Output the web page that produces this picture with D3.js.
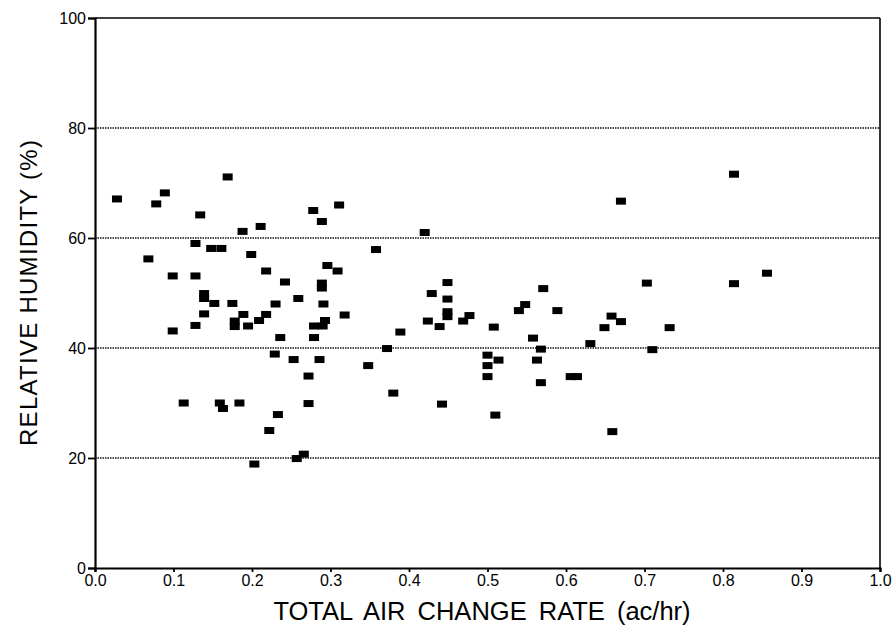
<!DOCTYPE html>
<html><head><meta charset="utf-8">
<script src="https://cdn.jsdelivr.net/npm/d3@7"></script>
<style>body{margin:0;background:#fff}svg{display:block}text{font-family:"Liberation Sans",Arial,sans-serif;fill:#000}</style>
</head><body>
<svg id="c" width="895" height="637"></svg>
<script>
const airChange = [0.028,0.068,0.078,0.089,0.099,0.099,0.113,0.128,0.128,0.128,0.134,0.139,0.139,0.139,0.148,0.152,0.159,0.161,0.163,0.169,0.175,0.178,0.178,0.184,0.188,0.189,0.195,0.199,0.203,0.209,0.211,0.218,0.218,0.222,0.229,0.230,0.233,0.236,0.242,0.253,0.257,0.259,0.266,0.272,0.272,0.278,0.279,0.279,0.286,0.289,0.289,0.289,0.290,0.291,0.293,0.296,0.309,0.311,0.318,0.348,0.358,0.372,0.380,0.389,0.420,0.424,0.429,0.439,0.442,0.449,0.449,0.449,0.449,0.469,0.477,0.500,0.500,0.500,0.508,0.510,0.514,0.540,0.548,0.558,0.563,0.568,0.568,0.571,0.589,0.606,0.614,0.631,0.649,0.658,0.659,0.670,0.670,0.703,0.710,0.732,0.814,0.814,0.856];
const humidity = [67.1,56.2,66.2,68.2,53.1,43.1,30.0,59.0,53.1,44.1,64.2,49.9,49.0,46.2,58.1,48.1,30.0,58.1,29.0,71.1,48.1,44.9,43.9,30.0,61.2,46.1,44.0,57.0,18.9,45.0,62.1,54.0,46.1,25.0,38.9,48.0,27.9,41.9,52.0,37.9,19.9,49.0,20.7,34.9,29.9,65.0,44.0,41.9,37.9,63.0,51.8,50.9,44.0,48.0,45.0,55.0,54.0,66.0,46.0,36.8,57.9,39.9,31.8,42.9,61.0,44.9,49.9,43.9,29.8,51.9,48.9,46.6,45.7,44.9,45.9,38.7,36.8,34.8,43.8,27.8,37.8,46.8,47.9,41.8,37.8,39.8,33.7,50.8,46.8,34.8,34.8,40.8,43.7,45.8,24.8,66.7,44.8,51.8,39.7,43.7,71.6,51.7,53.6];
const xTicks = [0,0.1,0.2,0.3,0.4,0.5,0.6,0.7,0.8,0.9,1.0];
const yTicks = [0,20,40,60,80,100];
const gridValues = [20,40,60,80];
const xTitle = "TOTAL AIR CHANGE RATE (ac/hr)";
const yTitle = "RELATIVE HUMIDITY (%)";

const svg = d3.select("#c");
const L=95, R=880, T=18, B=568;
const x = d3.scaleLinear().domain([0,1]).range([L,R]);
const y = d3.scaleLinear().domain([0,100]).range([B,T]);

// gridlines
svg.append("g").selectAll("line").data(gridValues).join("line")
  .attr("x1",L).attr("x2",R).attr("y1",d=>y(d)).attr("y2",d=>y(d))
  .attr("stroke","#111").attr("stroke-width",1.4).attr("stroke-dasharray","1.5,1");

// frame
svg.append("line").attr("x1",L).attr("x2",R).attr("y1",T).attr("y2",T).attr("stroke","#000").attr("stroke-width",1.6);
svg.append("line").attr("x1",R).attr("x2",R).attr("y1",T).attr("y2",B).attr("stroke","#000").attr("stroke-width",1.6);

// axes
const yAxis = svg.append("g").attr("transform",`translate(${L},0)`)
  .call(d3.axisLeft(y).tickValues(yTicks).tickFormat(d3.format("d")).tickSize(7).tickPadding(2));
const xAxis = svg.append("g").attr("transform",`translate(0,${B})`)
  .call(d3.axisBottom(x).tickValues(xTicks).tickFormat(d3.format(".1f")).tickSize(4).tickPadding(3));
[yAxis,xAxis].forEach(a=>{
  a.select(".domain").attr("stroke","#000").attr("stroke-width",2.2);
  a.selectAll(".tick line").attr("stroke","#000").attr("stroke-width",1.8);
  a.selectAll(".tick text").attr("font-size",16).attr("font-family","Liberation Sans, Arial, sans-serif").attr("fill","#000");
});
yAxis.selectAll(".tick text").attr("dy","0.35em");

// points
svg.append("g").selectAll("rect").data(airChange.map((v,i)=>[v,humidity[i]])).join("rect")
  .attr("x",d=>x(d[0])-5).attr("y",d=>y(d[1])-3.5).attr("width",10).attr("height",7).attr("fill","#000");

// titles
svg.append("text").attr("x",482).attr("y",620).attr("text-anchor","middle")
  .attr("font-size",25.5).attr("word-spacing",5).text(xTitle);
svg.append("text").attr("transform","translate(37,293) rotate(-90)").attr("text-anchor","middle")
  .attr("font-size",24).attr("textLength",306).attr("lengthAdjust","spacing").text(yTitle);
</script>
</body></html>
